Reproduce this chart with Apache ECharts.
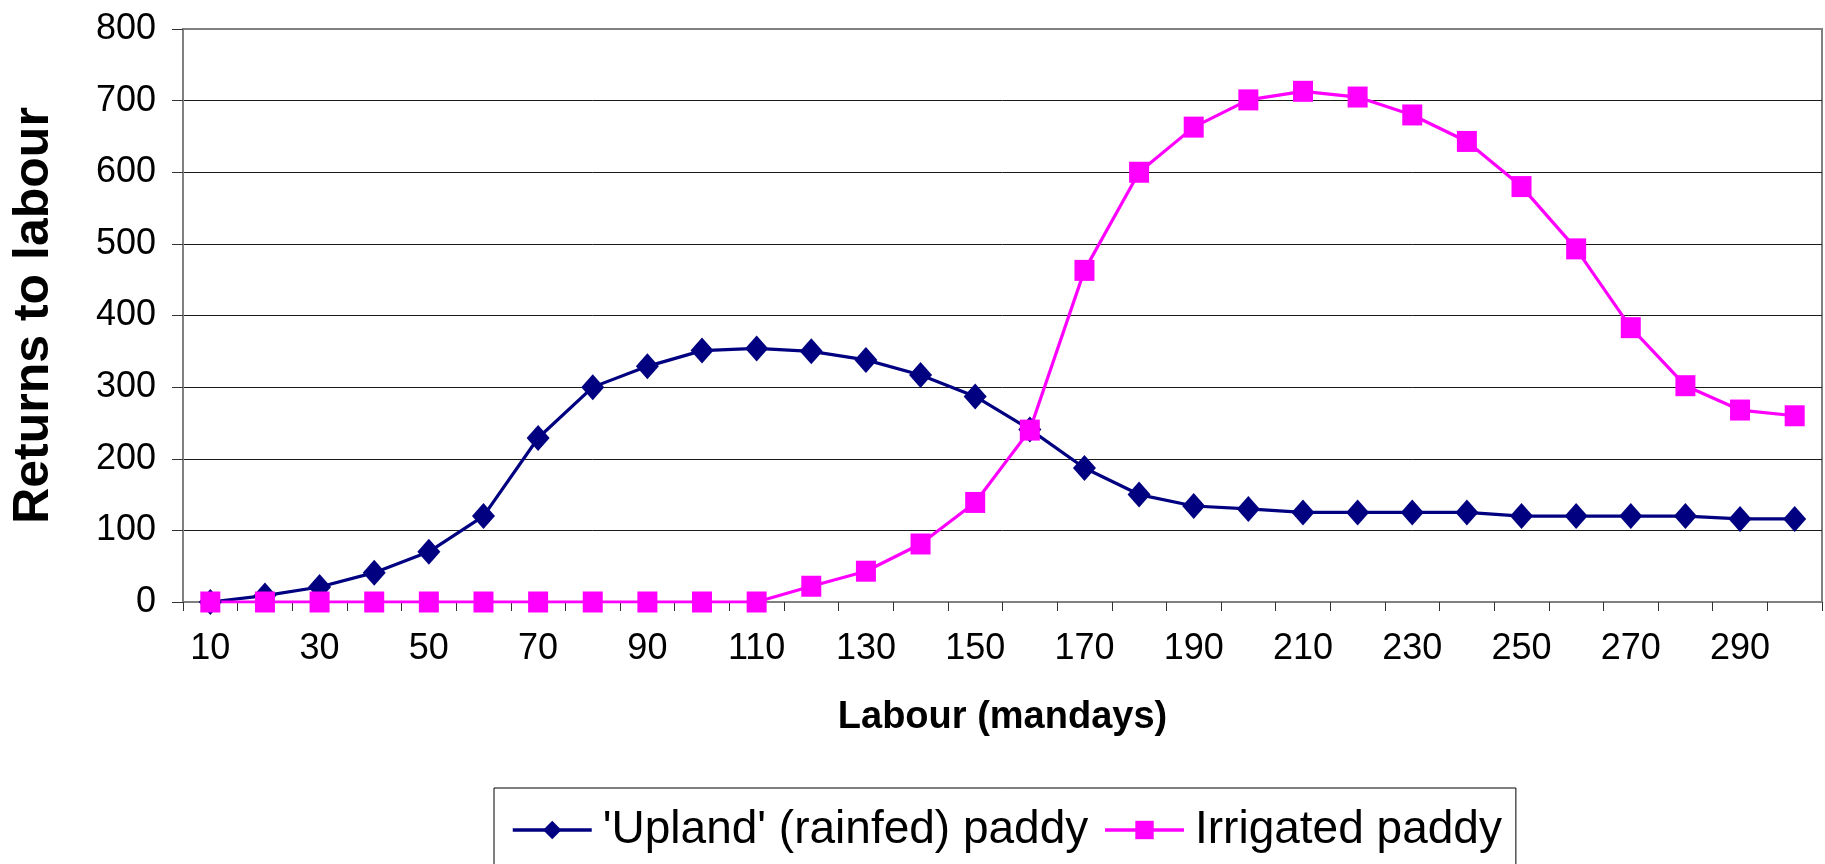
<!DOCTYPE html>
<html>
<head>
<meta charset="utf-8">
<script src="https://cdn.jsdelivr.net/npm/echarts@6/dist/echarts.min.js"></script>
<style>
	html, body { margin: 0; padding: 0; background: #fff; }
	#chart { width: 1825px; height: 864px; }
</style>
</head>
<body>
<div id="chart"></div>
<script>
var labour = [10, 20, 30, 40, 50, 60, 70, 80, 90, 100, 110, 120, 130, 140, 150,
	160, 170, 180, 190, 200, 210, 220, 230, 240, 250, 260, 270, 280, 290, 300];

// 'Upland' (rainfed) paddy
var upland = [0, 9, 21, 41, 70, 120, 229, 300, 329, 351, 354, 350, 338, 317, 287,
	241, 187, 150, 134, 130, 125, 125, 125, 125, 120, 120, 120, 120, 116, 116];

// Irrigated paddy
var irrigated = [0, 0, 0, 0, 0, 0, 0, 0, 0, 0, 0, 22, 43, 81, 139,
	240, 463, 600, 663, 701, 713, 705, 680, 643, 580, 493, 383, 302, 268, 260];

var yTicks = [0, 100, 200, 300, 400, 500, 600, 700, 800];

window.onload = function () {
	var font = "'Liberation Sans', Arial, sans-serif";
	var chart = echarts.init(document.getElementById('chart'), null, {renderer: 'canvas'});

	var option = {
		backgroundColor: '#ffffff',
		animation: false,
		textStyle: {fontFamily: font, color: '#000'},
		grid: {
			left: 183,
			right: 3,
			top: 29,
			bottom: 262,
			show: true,
			borderColor: '#808080',
			borderWidth: 2
		},
		legend: {
			left: 494,
			top: 788,
			orient: 'horizontal',
			borderColor: '#000',
			borderWidth: 1,
			padding: [19, 14, 40, 17],
			itemWidth: 79,
			itemHeight: 23,
			itemGap: 15,
			lineStyle: {width: 3.5},
			textStyle: {fontFamily: font, fontSize: 46, color: '#000', padding: [0, 0, 0, 6]},
			data: ["'Upland' (rainfed) paddy", 'Irrigated paddy']
		},
		xAxis: {
			type: 'category',
			data: labour,
			boundaryGap: true,
			name: 'Labour (mandays)',
			nameLocation: 'middle',
			nameGap: 97,
			nameTextStyle: {fontFamily: font, fontSize: 38, fontWeight: 'bold', color: '#000'},
			axisLine: {lineStyle: {color: '#808080', width: 2}},
			axisTick: {show: true, interval: 0, length: 9, lineStyle: {color: '#333', width: 1}},
			axisLabel: {interval: 1, margin: 29, fontFamily: font, fontSize: 36, color: '#000'},
			splitLine: {show: false}
		},
		yAxis: {
			type: 'value',
			min: yTicks[0],
			max: yTicks[yTicks.length - 1],
			interval: 100,
			name: 'Returns to labour',
			nameLocation: 'middle',
			nameRotate: 90,
			nameGap: 124,
			nameTextStyle: {fontFamily: font, fontSize: 50, fontWeight: 'bold', color: '#000'},
			axisLine: {show: true, lineStyle: {color: '#808080', width: 2}},
			axisTick: {show: true, length: 11, lineStyle: {color: '#333', width: 1}},
			axisLabel: {margin: 27, fontFamily: font, fontSize: 36, color: '#000'},
			splitLine: {show: true, showMinLine: false, showMaxLine: false, lineStyle: {color: '#1a1a1a', width: 1}}
		},
		series: [
			{
				name: "'Upland' (rainfed) paddy",
				type: 'line',
				data: upland,
				symbol: 'diamond',
				symbolSize: [23, 26],
				lineStyle: {color: '#000080', width: 3.2},
				itemStyle: {color: '#000080'}
			},
			{
				name: 'Irrigated paddy',
				type: 'line',
				data: irrigated,
				symbol: 'rect',
				symbolSize: [20, 21],
				lineStyle: {color: '#ff00ff', width: 3.2},
				itemStyle: {color: '#ff00ff'}
			}
		]
	};
	chart.setOption(option);
};
</script>
</body>
</html>
